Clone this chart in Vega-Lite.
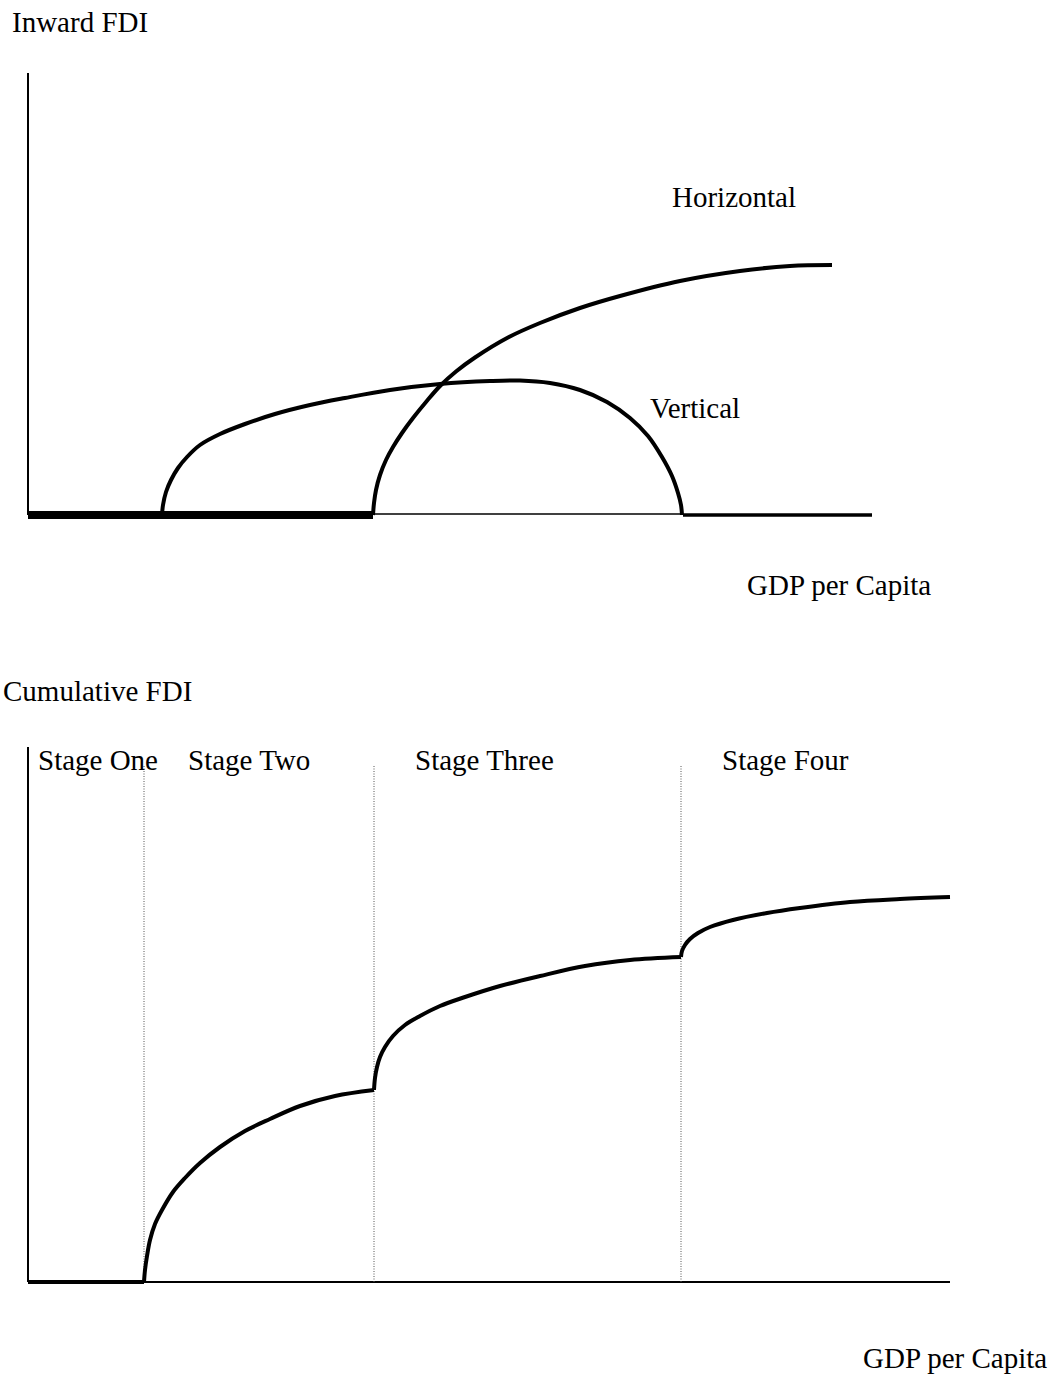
{
  "$schema": "https://vega.github.io/schema/vega-lite/v6.json",
  "padding": 0,
  "spacing": 0,
  "background": "white",
  "config": {
    "view": {"stroke": null},
    "concat": {"spacing": 0},
    "text": {"font": "Liberation Serif", "fontSize": 29, "color": "black", "align": "left", "baseline": "alphabetic"}
  },
  "datasets": {
    "topRules": [
      {"part": "y axis", "gdp": 0, "fdi": 0, "gdp2": 0, "fdi2": 44.2},
      {"part": "base thick", "gdp": 0, "fdi": 0, "gdp2": 34.5, "fdi2": 0},
      {"part": "base thin", "gdp": 34.5, "fdi": 0.1, "gdp2": 65.5, "fdi2": 0.1},
      {"part": "base right", "gdp": 65.5, "fdi": 0, "gdp2": 84.4, "fdi2": 0}
    ],
    "topCurves": [
      {"series": "Vertical", "gdp": 13.4, "fdi": 0},
      {"series": "Vertical", "gdp": 13.5, "fdi": 1.0},
      {"series": "Vertical", "gdp": 13.8, "fdi": 2.3},
      {"series": "Vertical", "gdp": 14.3, "fdi": 3.5},
      {"series": "Vertical", "gdp": 15.0, "fdi": 4.7},
      {"series": "Vertical", "gdp": 15.9, "fdi": 5.8},
      {"series": "Vertical", "gdp": 17.2, "fdi": 7.0},
      {"series": "Vertical", "gdp": 19.2, "fdi": 8.1},
      {"series": "Vertical", "gdp": 21.7, "fdi": 9.1},
      {"series": "Vertical", "gdp": 24.7, "fdi": 10.1},
      {"series": "Vertical", "gdp": 28.2, "fdi": 11.0},
      {"series": "Vertical", "gdp": 31.7, "fdi": 11.7},
      {"series": "Vertical", "gdp": 36.2, "fdi": 12.5},
      {"series": "Vertical", "gdp": 41.2, "fdi": 13.1},
      {"series": "Vertical", "gdp": 46.2, "fdi": 13.4},
      {"series": "Vertical", "gdp": 49.2, "fdi": 13.45},
      {"series": "Vertical", "gdp": 52.2, "fdi": 13.2},
      {"series": "Vertical", "gdp": 55.2, "fdi": 12.5},
      {"series": "Vertical", "gdp": 57.9, "fdi": 11.3},
      {"series": "Vertical", "gdp": 60.2, "fdi": 9.7},
      {"series": "Vertical", "gdp": 62.0, "fdi": 7.9},
      {"series": "Vertical", "gdp": 63.4, "fdi": 5.8},
      {"series": "Vertical", "gdp": 64.4, "fdi": 3.9},
      {"series": "Vertical", "gdp": 65.0, "fdi": 2.2},
      {"series": "Vertical", "gdp": 65.3, "fdi": 1.0},
      {"series": "Vertical", "gdp": 65.4, "fdi": 0},
      {"series": "Horizontal", "gdp": 34.5, "fdi": 0},
      {"series": "Horizontal", "gdp": 34.6, "fdi": 1.2},
      {"series": "Horizontal", "gdp": 34.8, "fdi": 2.5},
      {"series": "Horizontal", "gdp": 35.2, "fdi": 4.0},
      {"series": "Horizontal", "gdp": 35.8, "fdi": 5.5},
      {"series": "Horizontal", "gdp": 36.5, "fdi": 6.8},
      {"series": "Horizontal", "gdp": 37.4, "fdi": 8.2},
      {"series": "Horizontal", "gdp": 38.5, "fdi": 9.7},
      {"series": "Horizontal", "gdp": 39.8, "fdi": 11.3},
      {"series": "Horizontal", "gdp": 41.2, "fdi": 12.9},
      {"series": "Horizontal", "gdp": 42.8, "fdi": 14.35},
      {"series": "Horizontal", "gdp": 44.7, "fdi": 15.75},
      {"series": "Horizontal", "gdp": 48.0, "fdi": 17.75},
      {"series": "Horizontal", "gdp": 51.2, "fdi": 19.2},
      {"series": "Horizontal", "gdp": 55.2, "fdi": 20.7},
      {"series": "Horizontal", "gdp": 59.2, "fdi": 21.9},
      {"series": "Horizontal", "gdp": 65.2, "fdi": 23.4},
      {"series": "Horizontal", "gdp": 71.2, "fdi": 24.4},
      {"series": "Horizontal", "gdp": 76.2, "fdi": 24.9},
      {"series": "Horizontal", "gdp": 80.4, "fdi": 25.0}
    ],
    "topLabels": [
      {"label": "Inward FDI", "gdp": -1.6, "fdi": 48.3},
      {"label": "Horizontal", "gdp": 64.4, "fdi": 30.8},
      {"label": "Vertical", "gdp": 62.2, "fdi": 9.7},
      {"label": "GDP per Capita", "gdp": 71.9, "fdi": -8.0}
    ],
    "bottomRules": [
      {"part": "y axis", "gdp": 0, "cum": 0, "gdp2": 0, "cum2": 53.5},
      {"part": "x axis", "gdp": 0, "cum": 0, "gdp2": 92.2, "cum2": 0}
    ],
    "stageBounds": [
      {"boundary": "One/Two", "gdp": 11.6, "cum": 0, "cum2": 51.7},
      {"boundary": "Two/Three", "gdp": 34.6, "cum": 0, "cum2": 51.7},
      {"boundary": "Three/Four", "gdp": 65.3, "cum": 0, "cum2": 51.7}
    ],
    "cumulative": [
      {"stage": "One", "gdp": 0, "cum": 0},
      {"stage": "One", "gdp": 11.6, "cum": 0},
      {"stage": "Two", "gdp": 11.6, "cum": 0},
      {"stage": "Two", "gdp": 11.7, "cum": 1.2},
      {"stage": "Two", "gdp": 11.9, "cum": 2.6},
      {"stage": "Two", "gdp": 12.2, "cum": 4.2},
      {"stage": "Two", "gdp": 12.7, "cum": 5.8},
      {"stage": "Two", "gdp": 13.4, "cum": 7.2},
      {"stage": "Two", "gdp": 14.5, "cum": 9.0},
      {"stage": "Two", "gdp": 15.7, "cum": 10.4},
      {"stage": "Two", "gdp": 17.2, "cum": 11.9},
      {"stage": "Two", "gdp": 19.2, "cum": 13.5},
      {"stage": "Two", "gdp": 21.7, "cum": 15.1},
      {"stage": "Two", "gdp": 24.2, "cum": 16.3},
      {"stage": "Two", "gdp": 27.2, "cum": 17.6},
      {"stage": "Two", "gdp": 30.7, "cum": 18.6},
      {"stage": "Two", "gdp": 34.6, "cum": 19.2},
      {"stage": "Three", "gdp": 34.6, "cum": 19.2},
      {"stage": "Three", "gdp": 34.7, "cum": 20.4},
      {"stage": "Three", "gdp": 34.9, "cum": 21.5},
      {"stage": "Three", "gdp": 35.2, "cum": 22.5},
      {"stage": "Three", "gdp": 35.7, "cum": 23.5},
      {"stage": "Three", "gdp": 36.5, "cum": 24.6},
      {"stage": "Three", "gdp": 37.7, "cum": 25.7},
      {"stage": "Three", "gdp": 39.2, "cum": 26.6},
      {"stage": "Three", "gdp": 41.2, "cum": 27.6},
      {"stage": "Three", "gdp": 43.7, "cum": 28.5},
      {"stage": "Three", "gdp": 47.2, "cum": 29.6},
      {"stage": "Three", "gdp": 51.2, "cum": 30.6},
      {"stage": "Three", "gdp": 55.7, "cum": 31.6},
      {"stage": "Three", "gdp": 60.2, "cum": 32.2},
      {"stage": "Three", "gdp": 65.3, "cum": 32.5},
      {"stage": "Four", "gdp": 65.3, "cum": 32.5},
      {"stage": "Four", "gdp": 65.4, "cum": 33.1},
      {"stage": "Four", "gdp": 65.7, "cum": 33.7},
      {"stage": "Four", "gdp": 66.2, "cum": 34.3},
      {"stage": "Four", "gdp": 67.0, "cum": 34.9},
      {"stage": "Four", "gdp": 68.2, "cum": 35.5},
      {"stage": "Four", "gdp": 70.5, "cum": 36.2},
      {"stage": "Four", "gdp": 73.9, "cum": 36.9},
      {"stage": "Four", "gdp": 77.2, "cum": 37.4},
      {"stage": "Four", "gdp": 82.2, "cum": 38.0},
      {"stage": "Four", "gdp": 87.2, "cum": 38.3},
      {"stage": "Four", "gdp": 92.2, "cum": 38.5}
    ],
    "bottomLabels": [
      {"label": "Cumulative FDI", "gdp": -2.5, "cum": 58.1},
      {"label": "Stage One", "gdp": 1.0, "cum": 51.2},
      {"label": "Stage Two", "gdp": 16.0, "cum": 51.2},
      {"label": "Stage Three", "gdp": 38.7, "cum": 51.2},
      {"label": "Stage Four", "gdp": 69.4, "cum": 51.2},
      {"label": "GDP per Capita", "gdp": 83.5, "cum": -8.6}
    ]
  },
  "vconcat": [
    {
      "width": 1060,
      "height": 620,
      "layer": [
        {
          "data": {"name": "topRules"},
          "transform": [{"filter": "datum.part == 'y axis'"}],
          "mark": {"type": "rule", "color": "black", "strokeWidth": 2},
          "encoding": {
            "x": {"field": "gdp", "type": "quantitative", "scale": {"domain": [-2.8, 103.2], "nice": false, "zero": false}, "axis": null},
            "y": {"field": "fdi", "type": "quantitative", "scale": {"domain": [-10.5, 51.5], "nice": false, "zero": false}, "axis": null},
            "x2": {"field": "gdp2"},
            "y2": {"field": "fdi2"}
          }
        },
        {
          "data": {"name": "topRules"},
          "transform": [{"filter": "datum.part == 'base thick'"}],
          "mark": {"type": "rule", "color": "black", "strokeWidth": 8},
          "encoding": {
            "x": {"field": "gdp", "type": "quantitative", "axis": null},
            "y": {"field": "fdi", "type": "quantitative", "axis": null},
            "x2": {"field": "gdp2"},
            "y2": {"field": "fdi2"}
          }
        },
        {
          "data": {"name": "topRules"},
          "transform": [{"filter": "datum.part == 'base thin'"}],
          "mark": {"type": "rule", "color": "black", "strokeWidth": 1.5},
          "encoding": {
            "x": {"field": "gdp", "type": "quantitative", "axis": null},
            "y": {"field": "fdi", "type": "quantitative", "axis": null},
            "x2": {"field": "gdp2"},
            "y2": {"field": "fdi2"}
          }
        },
        {
          "data": {"name": "topRules"},
          "transform": [{"filter": "datum.part == 'base right'"}],
          "mark": {"type": "rule", "color": "black", "strokeWidth": 3.5},
          "encoding": {
            "x": {"field": "gdp", "type": "quantitative", "axis": null},
            "y": {"field": "fdi", "type": "quantitative", "axis": null},
            "x2": {"field": "gdp2"},
            "y2": {"field": "fdi2"}
          }
        },
        {
          "data": {"name": "topCurves"},
          "mark": {"type": "line", "color": "black", "strokeWidth": 4, "interpolate": "catmull-rom"},
          "encoding": {
            "x": {"field": "gdp", "type": "quantitative", "axis": null},
            "y": {"field": "fdi", "type": "quantitative", "axis": null},
            "detail": {"field": "series", "type": "nominal"}
          }
        },
        {
          "data": {"name": "topLabels"},
          "mark": {"type": "text"},
          "encoding": {
            "x": {"field": "gdp", "type": "quantitative", "axis": null},
            "y": {"field": "fdi", "type": "quantitative", "axis": null},
            "text": {"field": "label", "type": "nominal"}
          }
        }
      ]
    },
    {
      "width": 1060,
      "height": 761,
      "layer": [
        {
          "data": {"name": "bottomRules"},
          "mark": {"type": "rule", "color": "black", "strokeWidth": 2},
          "encoding": {
            "x": {"field": "gdp", "type": "quantitative", "scale": {"domain": [-2.8, 103.2], "nice": false, "zero": false}, "axis": null},
            "y": {"field": "cum", "type": "quantitative", "scale": {"domain": [-9.9, 66.2], "nice": false, "zero": false}, "axis": null},
            "x2": {"field": "gdp2"},
            "y2": {"field": "cum2"}
          }
        },
        {
          "data": {"name": "stageBounds"},
          "mark": {"type": "rule", "color": "#555555", "strokeWidth": 1, "strokeDash": [1, 1.5]},
          "encoding": {
            "x": {"field": "gdp", "type": "quantitative", "axis": null},
            "y": {"field": "cum", "type": "quantitative", "axis": null},
            "y2": {"field": "cum2"}
          }
        },
        {
          "data": {"name": "cumulative"},
          "mark": {"type": "line", "color": "black", "strokeWidth": 4, "interpolate": "catmull-rom"},
          "encoding": {
            "x": {"field": "gdp", "type": "quantitative", "axis": null},
            "y": {"field": "cum", "type": "quantitative", "axis": null},
            "detail": {"field": "stage", "type": "nominal"}
          }
        },
        {
          "data": {"name": "bottomLabels"},
          "mark": {"type": "text"},
          "encoding": {
            "x": {"field": "gdp", "type": "quantitative", "axis": null},
            "y": {"field": "cum", "type": "quantitative", "axis": null},
            "text": {"field": "label", "type": "nominal"}
          }
        }
      ]
    }
  ]
}
